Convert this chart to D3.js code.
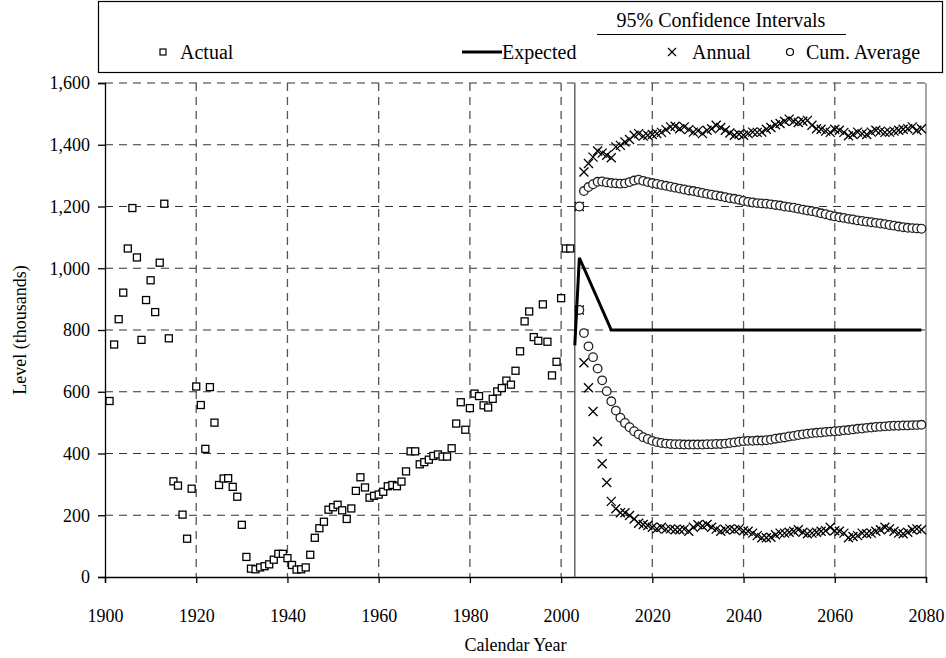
<!DOCTYPE html>
<html>
<head>
<meta charset="utf-8">
<script src="https://cdn.jsdelivr.net/npm/d3@7"></script>
<style>
  body { margin: 0; background: #fff; }
  svg { display: block; font-family: "Liberation Serif", "Times New Roman", serif; }
</style>
</head>
<body>
<svg width="946" height="658"></svg>
<script>
var width = 946
var height = 658
var margin = ({top: 83, right: 20, bottom: 81, left: 105})

// actual levels, 1901-2002 (thousands)
var actualYears = d3.range(1901, 2003)
var actualValues = [
  570, 753, 835, 921, 1064, 1195, 1035, 768, 897, 961,
  858, 1018, 1209, 773, 310, 296, 202, 124, 286, 617,
  557, 415, 615, 500, 298, 319, 320, 292, 260, 169,
  65, 27, 25, 31, 35, 41, 56, 75, 75, 61,
  39, 24, 25, 31, 72, 127, 158, 179, 218, 226,
  234, 216, 188, 222, 279, 323, 290, 257, 263, 267,
  276, 294, 298, 294, 309, 342, 407, 407, 365, 372,
  380, 392, 397, 390, 390, 417, 497, 566, 477, 547,
  594, 586, 556, 549, 577, 601, 612, 636, 623, 668,
  731, 828, 860, 777, 765, 883, 762, 653, 697, 903,
  1064, 1064
]

// expected path
var expectedYears = [2003, 2004, 2011, 2079]
var expectedValues = [750, 1034, 800, 800]

// projections 2004-2079
var projYears = d3.range(2004, 2080)
var annualUpper = [
  1200, 1312, 1339, 1360, 1380, 1373, 1366, 1358, 1393, 1398,
  1409, 1417, 1431, 1436, 1428, 1431, 1433, 1436, 1440, 1449,
  1458, 1460, 1452, 1458, 1449, 1441, 1445, 1436, 1447, 1452,
  1463, 1456, 1447, 1438, 1431, 1434, 1431, 1436, 1441, 1440,
  1441, 1450, 1456, 1465, 1469, 1476, 1483, 1476, 1472, 1476,
  1479, 1463, 1452, 1450, 1444, 1440, 1450, 1447, 1440, 1429,
  1433, 1441, 1436, 1433, 1441, 1447, 1444, 1440, 1441, 1444,
  1447, 1450, 1452, 1458, 1447, 1452
]
var annualLower = [
  865, 694, 613, 536, 439, 367, 306, 245, 221, 208,
  208, 199, 188, 174, 170, 167, 161, 156, 161, 155,
  156, 153, 153, 155, 148, 161, 169, 165, 170, 161,
  155, 148, 153, 156, 153, 156, 150, 148, 142, 134,
  127, 127, 129, 137, 142, 142, 145, 148, 153, 145,
  140, 142, 145, 148, 150, 161, 150, 148, 142, 127,
  131, 134, 142, 140, 142, 148, 153, 161, 156, 148,
  142, 140, 145, 153, 156, 153
]
var cumUpper = [
  1200, 1250, 1263, 1272, 1280, 1281, 1278, 1276, 1275, 1274,
  1275, 1279, 1284, 1287, 1283, 1279, 1276, 1273, 1270, 1267,
  1264, 1261, 1258, 1255, 1252, 1250, 1247, 1244, 1241, 1238,
  1236, 1233, 1230, 1227, 1225, 1222, 1218, 1215, 1213, 1211,
  1210, 1209, 1207, 1205, 1203, 1200, 1198, 1196, 1193, 1190,
  1187, 1185, 1182, 1178, 1175, 1171, 1168, 1165, 1163, 1160,
  1158, 1155, 1153, 1151, 1149, 1147, 1145, 1143, 1140, 1138,
  1135, 1133, 1131, 1130, 1129, 1128
]
var cumLower = [
  865, 790, 747, 712, 675, 637, 602, 569, 539, 516,
  499, 485, 472, 462, 453, 447, 441, 437, 434, 432,
  431, 430, 430, 429, 429, 429, 429, 429, 430, 430,
  431, 431, 432, 434, 436, 438, 440, 441, 441, 442,
  442, 443, 445, 448, 450, 452, 455, 457, 460, 462,
  464, 466, 467, 468, 470, 471, 472, 473, 475, 476,
  478, 480, 481, 483, 484, 486, 487, 488, 489, 490,
  490, 491, 491, 492, 492, 493
]

var xTicks = d3.range(1900, 2081, 20)
var yTicks = d3.range(0, 1601, 200)

var x = d3.scaleLinear()
    .domain([1900, 2080])
    .range([margin.left, width - margin.right])
var y = d3.scaleLinear()
    .domain([0, 1600])
    .range([height - margin.bottom, margin.top])

const svg = d3.select("svg")

// grid
svg.append("g")
    .attr("stroke", "#333")
    .attr("stroke-width", 1.2)
    .attr("stroke-dasharray", "8,6")
    .selectAll("line")
    .data(yTicks.filter(d => d > 0))
    .enter().append("line")
    .attr("x1", margin.left).attr("x2", width - margin.right)
    .attr("y1", d => y(d)).attr("y2", d => y(d))
svg.append("g")
    .attr("stroke", "#555")
    .attr("stroke-width", 1.3)
    .attr("stroke-dasharray", "8,6")
    .selectAll("line")
    .data(xTicks.filter(d => d > 1900 && d < 2080))
    .enter().append("line")
    .attr("x1", d => x(d)).attr("x2", d => x(d))
    .attr("y1", margin.top).attr("y2", height - margin.bottom)

// right border
svg.append("line")
    .attr("x1", x(2080)).attr("x2", x(2080))
    .attr("y1", margin.top).attr("y2", height - margin.bottom)
    .attr("stroke", "#888").attr("stroke-width", 1.5)

// axes
var xAxis = g => g
    .attr("transform", `translate(0,${height - margin.bottom})`)
    .call(d3.axisBottom(x).tickValues(xTicks).tickFormat(d3.format("d")).tickSize(6).tickPadding(26))
var yAxis = g => g
    .attr("transform", `translate(${margin.left},0)`)
    .call(d3.axisLeft(y).tickValues(yTicks).tickFormat(d3.format(",")).tickSize(7).tickPadding(8))

svg.append("g").call(xAxis)
svg.append("g").call(yAxis)
svg.selectAll(".tick text")
    .attr("font-family", "Liberation Serif")
    .attr("font-size", 18)
    .attr("fill", "#000")
svg.selectAll(".domain, .tick line").attr("stroke", "#000").attr("stroke-width", 1.3)

// current-year divider
svg.append("line")
    .attr("x1", x(2003)).attr("x2", x(2003))
    .attr("y1", margin.top).attr("y2", height - margin.bottom)
    .attr("stroke", "#666").attr("stroke-width", 1.5)

// markers
function square(g, data, xs) {
  g.selectAll("rect.m")
    .data(data)
    .enter().append("rect")
    .attr("class", "m")
    .attr("x", (d, i) => x(xs[i]) - 3.5)
    .attr("y", d => y(d) - 3.5)
    .attr("width", 7).attr("height", 7)
    .attr("fill", "#fff").attr("stroke", "#000").attr("stroke-width", 1.3)
}
function cross(g, data, xs) {
  g.selectAll("path.m")
    .data(data)
    .enter().append("path")
    .attr("class", "m")
    .attr("d", (d, i) => {
      var cx = x(xs[i]), cy = y(d), r = 4.5
      return `M${cx - r},${cy - r}L${cx + r},${cy + r}M${cx - r},${cy + r}L${cx + r},${cy - r}`
    })
    .attr("fill", "none").attr("stroke", "#000").attr("stroke-width", 1.3)
}
function ring(g, data, xs) {
  g.selectAll("circle.m")
    .data(data)
    .enter().append("circle")
    .attr("class", "m")
    .attr("cx", (d, i) => x(xs[i]))
    .attr("cy", d => y(d))
    .attr("r", 4.3)
    .attr("fill", "#fff").attr("stroke", "#222").attr("stroke-width", 1.3)
}

square(svg.append("g"), actualValues, actualYears)
cross(svg.append("g"), annualUpper, projYears)
cross(svg.append("g"), annualLower, projYears)
ring(svg.append("g"), cumUpper, projYears)
ring(svg.append("g"), cumLower, projYears)

var line = d3.line()
    .x((d, i) => x(expectedYears[i]))
    .y(d => y(d))
svg.append("path")
    .attr("d", line(expectedValues))
    .attr("fill", "none")
    .attr("stroke", "#000")
    .attr("stroke-width", 3)

// axis titles
svg.append("text")
    .attr("x", (margin.left + width - margin.right) / 2)
    .attr("y", 651)
    .attr("text-anchor", "middle")
    .attr("font-size", 18)
    .text("Calendar Year")
svg.append("text")
    .attr("transform", `translate(26,${(margin.top + height - margin.bottom) / 2}) rotate(-90)`)
    .attr("text-anchor", "middle")
    .attr("font-size", 18)
    .text("Level (thousands)")

// legend
const leg = svg.append("g")
leg.append("rect")
    .attr("x", 98.5).attr("y", 1.5)
    .attr("width", 844).attr("height", 71)
    .attr("fill", "#fff").attr("stroke", "#000").attr("stroke-width", 1.2)
leg.append("text")
    .attr("x", 721).attr("y", 27)
    .attr("text-anchor", "middle")
    .attr("font-size", 20)
    .text("95% Confidence Intervals")
leg.append("line")
    .attr("x1", 597).attr("x2", 846).attr("y1", 34.5).attr("y2", 34.5)
    .attr("stroke", "#000").attr("stroke-width", 1)
leg.append("rect")
    .attr("x", 160).attr("y", 49).attr("width", 6).attr("height", 6)
    .attr("fill", "#fff").attr("stroke", "#000").attr("stroke-width", 1.2)
leg.append("text").attr("x", 180).attr("y", 59).attr("font-size", 20).text("Actual")
leg.append("line")
    .attr("x1", 462).attr("x2", 502).attr("y1", 52).attr("y2", 52)
    .attr("stroke", "#000").attr("stroke-width", 3)
leg.append("text").attr("x", 502).attr("y", 59).attr("font-size", 20).text("Expected")
leg.append("path")
    .attr("d", "M668,48L676,56M668,56L676,48")
    .attr("stroke", "#000").attr("stroke-width", 1.2)
leg.append("text").attr("x", 692).attr("y", 59).attr("font-size", 20).text("Annual")
leg.append("circle")
    .attr("cx", 790).attr("cy", 52).attr("r", 3.5)
    .attr("fill", "#fff").attr("stroke", "#000").attr("stroke-width", 1.2)
leg.append("text").attr("x", 806).attr("y", 59).attr("font-size", 20).text("Cum. Average")
</script>
</body>
</html>
